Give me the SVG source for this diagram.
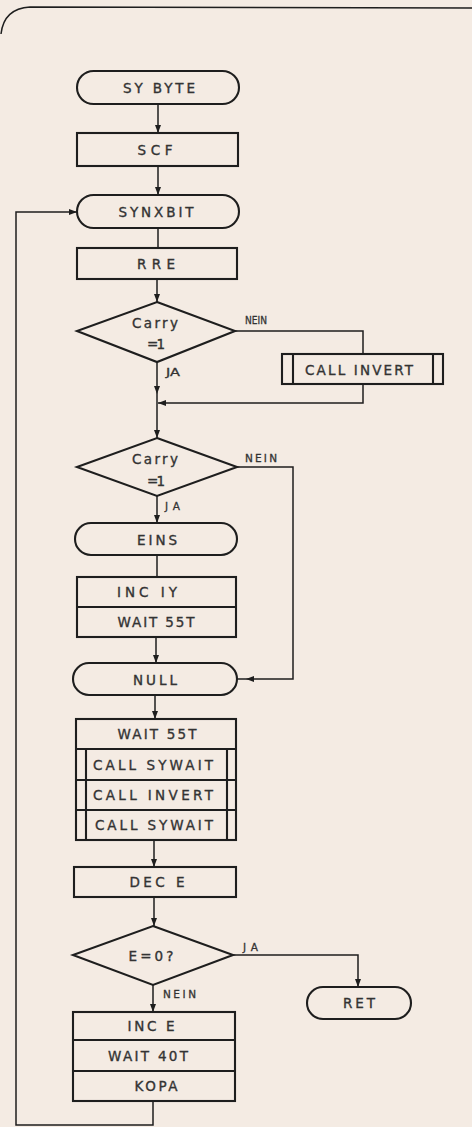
<svg xmlns="http://www.w3.org/2000/svg" width="472" height="1127" viewBox="0 0 472 1127">
<defs>
<marker id="ah" markerUnits="userSpaceOnUse" markerWidth="8" markerHeight="7" refX="8" refY="3.5" orient="auto">
<path d="M0,0.5 L8,3.5 L0,6.5 z" fill="#1e1e1e"/>
</marker>
<style>
.bg{fill:#f4ebe3}
.box{fill:none;stroke:#1e1e1e;stroke-width:2.1}
.ln{fill:none;stroke:#1e1e1e;stroke-width:1.5}
.ar{fill:none;stroke:#1e1e1e;stroke-width:1.5;marker-end:url(#ah)}
.t{font-family:"DejaVu Sans",sans-serif;font-size:13.5px;fill:#333;stroke:#333;stroke-width:0.35;text-anchor:middle}
.s{font-family:"DejaVu Sans",sans-serif;font-size:10.5px;fill:#333;stroke:#333;stroke-width:0.3}
</style>
</defs>
<rect class="bg" x="0" y="0" width="472" height="1127"/>
<path class="ln" d="M1,34 C3,16 13,8 30,7 L472,8" stroke-width="1.7"/>

<g id="connectors">
<path class="ar" d="M158,104 V133"/>
<path class="ar" d="M158,166 V195"/>
<path class="ln" d="M158,228 V248"/>
<path class="ar" d="M157,280 V302"/>
<path class="ln" d="M235,331 H363 V354"/>
<path class="ar" d="M363,384 V403 H158"/>
<path class="ar" d="M157,362 V394"/>
<path class="ar" d="M157,394 V438"/>
<path class="ar" d="M237,467 H293 V679 H246"/>
<path class="ln" d="M246,679 H237"/>
<path class="ar" d="M157,496 V523"/>
<path class="ln" d="M157,555 V577"/>
<path class="ar" d="M156,637 V663"/>
<path class="ar" d="M155,695 V719"/>
<path class="ar" d="M154,840 V867"/>
<path class="ar" d="M154,897 V926"/>
<path class="ar" d="M233,955 H358 V987"/>
<path class="ar" d="M153,985 V1012"/>
<path class="ar" d="M153,1101 V1125 H16 V212 H77"/>
<text class="s" x="245" y="324" textLength="22" lengthAdjust="spacingAndGlyphs">NEIN</text>
<text class="s" x="166" y="376" textLength="14" lengthAdjust="spacingAndGlyphs">JA</text>
<text class="s" x="245" y="462" textLength="32" lengthAdjust="spacing">NEIN</text>
<text class="s" x="165" y="510" textLength="15" lengthAdjust="spacing">JA</text>
<text class="s" x="243" y="951" textLength="15" lengthAdjust="spacing">JA</text>
<text class="s" x="163" y="998" textLength="33" lengthAdjust="spacing">NEIN</text>
</g>

<g id="sybyte">
<rect class="box" x="77" y="71" width="162" height="33" rx="16.5"/>
<text class="t" x="159" y="92.5" textLength="72" lengthAdjust="spacing">SY BYTE</text>
</g>
<g id="scf">
<rect class="box" x="77" y="133" width="161" height="33"/>
<text class="t" x="155" y="154.5" textLength="35" lengthAdjust="spacing">SCF</text>
</g>
<g id="synxbit">
<rect class="box" x="77" y="195" width="162" height="33" rx="16.5"/>
<text class="t" x="156" y="216.5" textLength="75" lengthAdjust="spacing">SYNXBIT</text>
</g>
<g id="rre">
<rect class="box" x="77" y="248" width="160" height="31"/>
<text class="t" x="156" y="268.5" textLength="38" lengthAdjust="spacing">RRE</text>
</g>
<g id="carry1">
<polygon class="box" points="157,302 235,331 157,362 77,331"/>
<text class="t" x="155" y="328" textLength="46" lengthAdjust="spacing">Carry</text>
<text class="t" x="156" y="349" textLength="18" lengthAdjust="spacing">=1</text>
</g>
<g id="callinvert1">
<rect class="box" x="282" y="354" width="161" height="30"/>
<path class="box" d="M293,354 V384 M433,354 V384"/>
<text class="t" x="359" y="374.5" textLength="108" lengthAdjust="spacing">CALL INVERT</text>
</g>
<g id="carry2">
<polygon class="box" points="157,438 237,467 157,496 77,467"/>
<text class="t" x="155" y="464" textLength="46" lengthAdjust="spacing">Carry</text>
<text class="t" x="156" y="486" textLength="18" lengthAdjust="spacing">=1</text>
</g>
<g id="eins">
<rect class="box" x="75" y="523" width="162" height="32" rx="16"/>
<text class="t" x="157" y="544.5" textLength="40" lengthAdjust="spacing">EINS</text>
</g>
<g id="inciy">
<rect class="box" x="77" y="577" width="159" height="60"/>
<path class="box" d="M77,607 H236"/>
<text class="t" x="147" y="597" textLength="60" lengthAdjust="spacing">INC IY</text>
<text class="t" x="156" y="627" textLength="77" lengthAdjust="spacing">WAIT 55T</text>
</g>
<g id="null">
<rect class="box" x="73" y="663" width="164" height="32" rx="16"/>
<text class="t" x="155" y="684.5" textLength="44" lengthAdjust="spacing">NULL</text>
</g>
<g id="waitblock">
<rect class="box" x="76" y="719" width="160" height="121"/>
<path class="box" d="M76,749 H236 M76,780 H236 M76,810 H236 M86,749 V840 M227,749 V840"/>
<text class="t" x="157" y="739" textLength="79" lengthAdjust="spacing">WAIT 55T</text>
<text class="t" x="153" y="770" textLength="120" lengthAdjust="spacing">CALL SYWAIT</text>
<text class="t" x="153" y="800" textLength="120" lengthAdjust="spacing">CALL INVERT</text>
<text class="t" x="154" y="830" textLength="118" lengthAdjust="spacing">CALL SYWAIT</text>
</g>
<g id="dece">
<rect class="box" x="74" y="867" width="162" height="30"/>
<text class="t" x="157" y="887" textLength="55" lengthAdjust="spacing">DEC E</text>
</g>
<g id="e0">
<polygon class="box" points="153,926 233,955 153,985 73,955"/>
<text class="t" x="151" y="961" textLength="45" lengthAdjust="spacing">E=0?</text>
</g>
<g id="ret">
<rect class="box" x="307" y="987" width="104" height="32" rx="16"/>
<text class="t" x="359" y="1008" textLength="32" lengthAdjust="spacing">RET</text>
</g>
<g id="ince">
<rect class="box" x="73" y="1012" width="162" height="89"/>
<path class="box" d="M73,1040 H235 M73,1071 H235"/>
<text class="t" x="151" y="1031" textLength="47" lengthAdjust="spacing">INC E</text>
<text class="t" x="148" y="1061" textLength="80" lengthAdjust="spacing">WAIT 40T</text>
<text class="t" x="156" y="1091" textLength="43" lengthAdjust="spacing">KOPA</text>
</g>
</svg>
